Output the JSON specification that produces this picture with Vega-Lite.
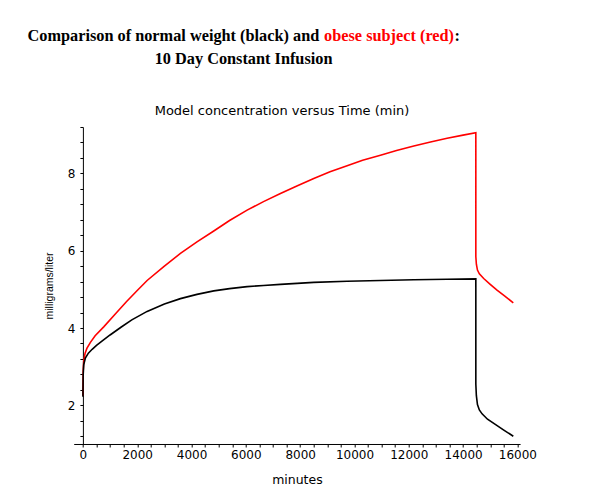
{
  "$schema": "https://vega.github.io/schema/vega-lite/v6.json",
  "padding": {"left": 26.7, "top": 27.7, "right": 5, "bottom": 5},
  "config": {"view": {"stroke": null}},
  "datasets": {
    "curves": [
      {"subject": "obese", "minutes": 0, "mg": 2.25},
      {"subject": "obese", "minutes": 10, "mg": 2.9},
      {"subject": "obese", "minutes": 30, "mg": 3.15},
      {"subject": "obese", "minutes": 80, "mg": 3.35},
      {"subject": "obese", "minutes": 150, "mg": 3.48},
      {"subject": "obese", "minutes": 276, "mg": 3.63},
      {"subject": "obese", "minutes": 450, "mg": 3.8},
      {"subject": "obese", "minutes": 766, "mg": 4.03},
      {"subject": "obese", "minutes": 1200, "mg": 4.37},
      {"subject": "obese", "minutes": 1600, "mg": 4.68},
      {"subject": "obese", "minutes": 2000, "mg": 4.97},
      {"subject": "obese", "minutes": 2364, "mg": 5.23},
      {"subject": "obese", "minutes": 3000, "mg": 5.6},
      {"subject": "obese", "minutes": 3591, "mg": 5.93},
      {"subject": "obese", "minutes": 4200, "mg": 6.23},
      {"subject": "obese", "minutes": 4819, "mg": 6.51},
      {"subject": "obese", "minutes": 5400, "mg": 6.78},
      {"subject": "obese", "minutes": 6047, "mg": 7.05},
      {"subject": "obese", "minutes": 6650, "mg": 7.27},
      {"subject": "obese", "minutes": 7274, "mg": 7.48},
      {"subject": "obese", "minutes": 7900, "mg": 7.68},
      {"subject": "obese", "minutes": 8502, "mg": 7.87},
      {"subject": "obese", "minutes": 9100, "mg": 8.04},
      {"subject": "obese", "minutes": 9730, "mg": 8.2},
      {"subject": "obese", "minutes": 10300, "mg": 8.34},
      {"subject": "obese", "minutes": 10958, "mg": 8.47},
      {"subject": "obese", "minutes": 11550, "mg": 8.59},
      {"subject": "obese", "minutes": 12185, "mg": 8.71},
      {"subject": "obese", "minutes": 12800, "mg": 8.81},
      {"subject": "obese", "minutes": 13413, "mg": 8.91},
      {"subject": "obese", "minutes": 14000, "mg": 8.99},
      {"subject": "obese", "minutes": 14470, "mg": 9.05},
      {"subject": "obese", "minutes": 14470, "mg": 5.85},
      {"subject": "obese", "minutes": 14490, "mg": 5.65},
      {"subject": "obese", "minutes": 14530, "mg": 5.5},
      {"subject": "obese", "minutes": 14600, "mg": 5.4},
      {"subject": "obese", "minutes": 14760, "mg": 5.28},
      {"subject": "obese", "minutes": 15000, "mg": 5.13},
      {"subject": "obese", "minutes": 15250, "mg": 4.98},
      {"subject": "obese", "minutes": 15550, "mg": 4.82},
      {"subject": "obese", "minutes": 15850, "mg": 4.65},
      {"subject": "normal", "minutes": 0, "mg": 2.22},
      {"subject": "normal", "minutes": 10, "mg": 2.8},
      {"subject": "normal", "minutes": 30, "mg": 3.05},
      {"subject": "normal", "minutes": 90, "mg": 3.22},
      {"subject": "normal", "minutes": 200, "mg": 3.35},
      {"subject": "normal", "minutes": 340, "mg": 3.45},
      {"subject": "normal", "minutes": 500, "mg": 3.55},
      {"subject": "normal", "minutes": 700, "mg": 3.66},
      {"subject": "normal", "minutes": 1000, "mg": 3.82},
      {"subject": "normal", "minutes": 1400, "mg": 4.02},
      {"subject": "normal", "minutes": 1800, "mg": 4.21},
      {"subject": "normal", "minutes": 2364, "mg": 4.43},
      {"subject": "normal", "minutes": 3000, "mg": 4.62},
      {"subject": "normal", "minutes": 3591, "mg": 4.76},
      {"subject": "normal", "minutes": 4200, "mg": 4.87},
      {"subject": "normal", "minutes": 4819, "mg": 4.96},
      {"subject": "normal", "minutes": 5400, "mg": 5.02},
      {"subject": "normal", "minutes": 6047, "mg": 5.07},
      {"subject": "normal", "minutes": 6650, "mg": 5.1},
      {"subject": "normal", "minutes": 7274, "mg": 5.13},
      {"subject": "normal", "minutes": 8502, "mg": 5.18},
      {"subject": "normal", "minutes": 9730, "mg": 5.21},
      {"subject": "normal", "minutes": 10958, "mg": 5.23},
      {"subject": "normal", "minutes": 12185, "mg": 5.25},
      {"subject": "normal", "minutes": 13413, "mg": 5.26},
      {"subject": "normal", "minutes": 14470, "mg": 5.27},
      {"subject": "normal", "minutes": 14470, "mg": 2.55},
      {"subject": "normal", "minutes": 14490, "mg": 2.25},
      {"subject": "normal", "minutes": 14530, "mg": 2.02},
      {"subject": "normal", "minutes": 14600, "mg": 1.88},
      {"subject": "normal", "minutes": 14700, "mg": 1.78},
      {"subject": "normal", "minutes": 14900, "mg": 1.64},
      {"subject": "normal", "minutes": 15200, "mg": 1.5},
      {"subject": "normal", "minutes": 15500, "mg": 1.36},
      {"subject": "normal", "minutes": 15850, "mg": 1.2}
    ]
  },
  "vconcat": [
    {
      "hconcat": [
        {
          "width": 199.4, "height": 20,
          "data": {"values": [{"t": "Comparison of normal weight (black) and"}]},
          "mark": {"type": "text", "font": "Liberation Serif", "fontWeight": "bold", "fontSize": 16.3, "baseline": "alphabetic", "align": "center", "color": "#000000"},
          "encoding": {"text": {"field": "t"}}
        },
        {
          "width": 2, "height": 20,
          "data": {"values": [{"t": "obese subject (red)"}]},
          "mark": {"type": "text", "font": "Liberation Serif", "fontWeight": "bold", "fontSize": 16.3, "baseline": "alphabetic", "align": "left", "color": "#ff0000"},
          "encoding": {"text": {"field": "t"}}
        },
        {
          "width": 160, "height": 20,
          "data": {"values": [{"t": ":"}]},
          "mark": {"type": "text", "font": "Liberation Serif", "fontWeight": "bold", "fontSize": 16.3, "baseline": "alphabetic", "align": "left", "color": "#000000"},
          "encoding": {"text": {"field": "t"}}
        }
      ],
      "spacing": 49.4,
      "bounds": "flush"
    },
    {
      "width": 446.4,
      "height": 317,
      "title": {
        "text": "10 Day Constant Infusion",
        "subtitle": "Model concentration versus Time (min)",
        "anchor": "start", "frame": "group", "dx": 81, "offset": 2.7,
        "font": "Liberation Serif", "fontSize": 16.3, "fontWeight": "bold", "color": "#000000",
        "subtitleFont": "DejaVu Sans", "subtitleFontSize": 13, "subtitleFontWeight": "normal", "subtitleColor": "#000000", "subtitlePadding": 38
      },
      "data": {"name": "curves"},
      "mark": {"type": "line", "strokeWidth": 1.6, "clip": false},
      "encoding": {
        "x": {
          "field": "minutes", "type": "quantitative",
          "scale": {"domain": [-340, 16100], "nice": false, "zero": false},
          "axis": {
            "title": "minutes",
            "values": [0,500,1000,1500,2000,2500,3000,3500,4000,4500,5000,5500,6000,6500,7000,7500,8000,8500,9000,9500,10000,10500,11000,11500,12000,12500,13000,13500,14000,14500,15000,15500,16000],
            "labelExpr": "datum.value % 2000 === 0 ? format(datum.value, 'd') : ''",
            "grid": false, "domainColor": "#000000", "domainWidth": 1, "tickColor": "#000000", "tickSize": 3, "tickWidth": 1,
            "labelFont": "DejaVu Sans", "labelFontSize": 12, "labelColor": "#000000", "labelPadding": 3,
            "labelOverlap": false, "labelFlush": false, "labelBound": false,
            "titleFont": "DejaVu Sans", "titleFontSize": 12.5, "titleFontWeight": "normal", "titleColor": "#000000", "titlePadding": 13
          }
        },
        "y": {
          "field": "mg", "type": "quantitative",
          "scale": {"domain": [1, 9.2], "nice": false, "zero": false},
          "axis": {
            "title": "milligrams/liter",
            "offset": -9.2,
            "values": [1.2,1.6,2,2.4,2.8,3.2,3.6,4,4.4,4.8,5.2,5.6,6,6.4,6.8,7.2,7.6,8,8.4,8.8,9.2],
            "labelExpr": "datum.value % 2 === 0 ? format(datum.value, 'd') : ''",
            "grid": false, "domainColor": "#000000", "domainWidth": 1, "tickColor": "#000000", "tickSize": 3, "tickWidth": 1,
            "labelFont": "DejaVu Sans", "labelFontSize": 12, "labelColor": "#000000", "labelPadding": 5,
            "labelOverlap": false, "labelFlush": false, "labelBound": false,
            "titleFont": "Liberation Sans", "titleFontSize": 10.5, "titleFontWeight": "normal", "titleColor": "#000000", "titlePadding": 13
          }
        },
        "color": {
          "field": "subject", "type": "nominal",
          "scale": {"domain": ["obese", "normal"], "range": ["#ff0000", "#000000"]},
          "legend": null
        },
        "order": {"value": null}
      }
    }
  ],
  "spacing": 96.3,
  "bounds": "flush"
}
